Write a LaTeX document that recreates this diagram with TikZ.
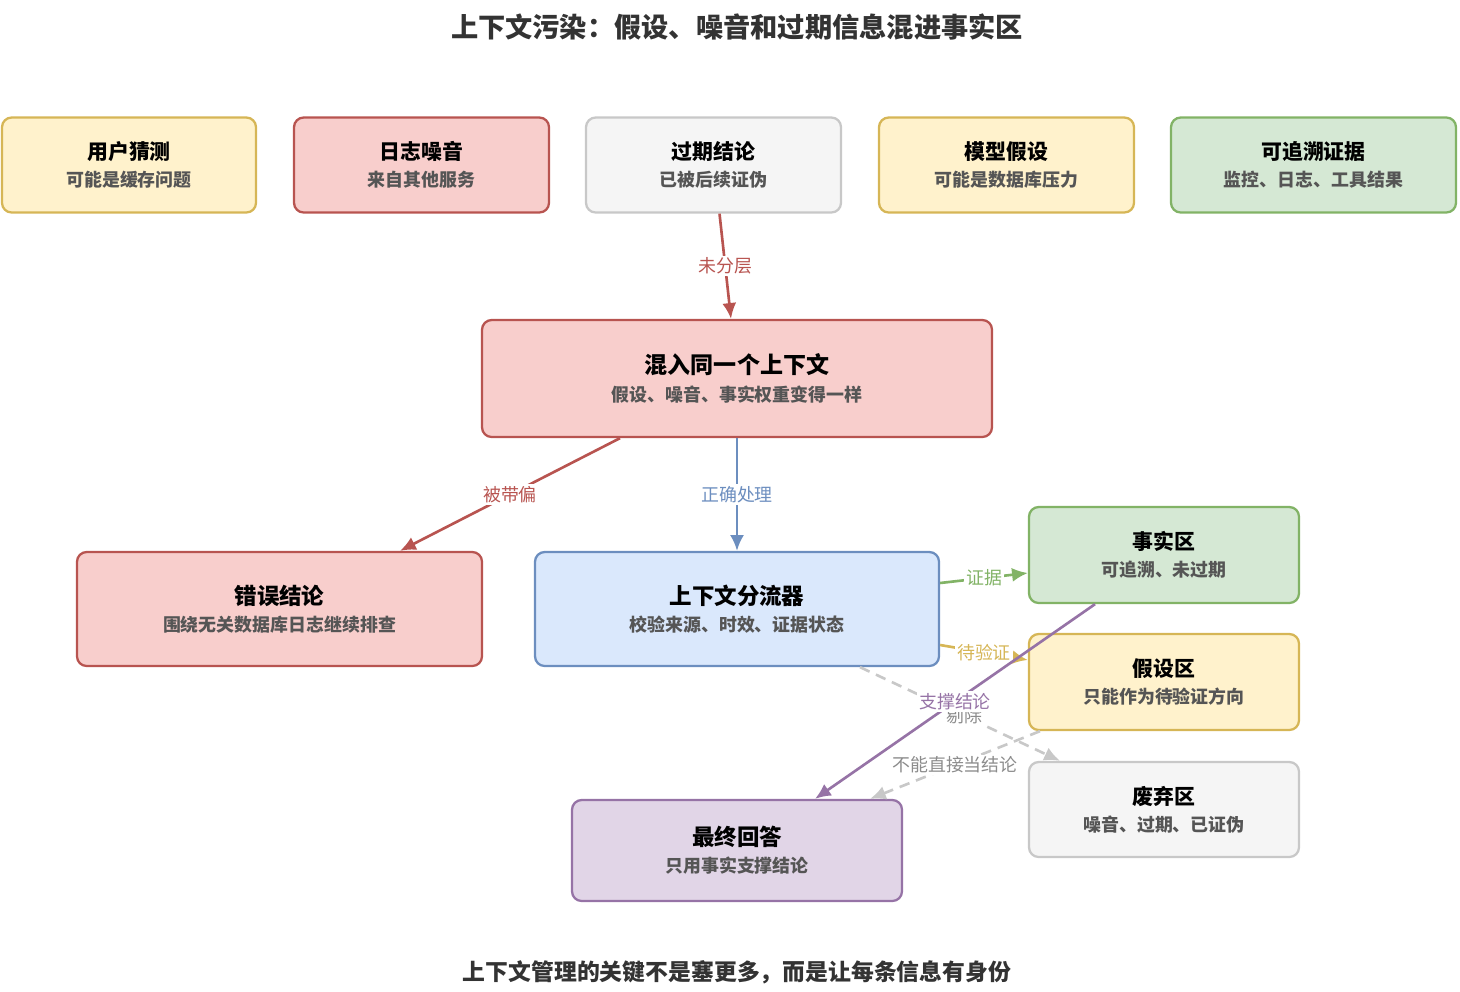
\documentclass[tikz,border=0pt]{standalone}
\usepackage{fontspec}
\setmainfont{Noto Sans CJK SC}
\usetikzlibrary{arrows.meta}
\usetikzlibrary{calc}

\definecolor{yelfill}{HTML}{FFF2CC}
\definecolor{yeldraw}{HTML}{D6B656}
\definecolor{redfill}{HTML}{F8CECC}
\definecolor{reddraw}{HTML}{B85450}
\definecolor{grayfill}{HTML}{F5F5F5}
\definecolor{graydraw}{HTML}{C8C8C8}
\definecolor{grnfill}{HTML}{D5E8D4}
\definecolor{grndraw}{HTML}{82B366}
\definecolor{blufill}{HTML}{DAE8FC}
\definecolor{bludraw}{HTML}{6C8EBF}
\definecolor{purfill}{HTML}{E1D5E7}
\definecolor{purdraw}{HTML}{9673A6}
\definecolor{subgray}{HTML}{555555}
\definecolor{titlegray}{HTML}{333333}
\definecolor{lablgray}{HTML}{8C8C8C}

% box text: title and grey second line
\newcommand{\boxtxt}[3][11.9pt]{{\fontsize{#1}{15.5pt}\selectfont\bfseries #2}\\{\fontsize{10.2pt}{15.5pt}\selectfont\bfseries\color{subgray}#3}}

\begin{document}
\begin{tikzpicture}[x=0.02cm,y=-0.02cm,
  box/.style={draw, rounded corners=5.5pt, line width=1.3pt, align=center, inner sep=2pt,
    font=\fontsize{10.2pt}{15.5pt}\selectfont},
  sz/.style 2 args={minimum width=#1*0.02cm, minimum height=#2*0.02cm},
  yel/.style={box, fill=yelfill, draw=yeldraw},
  red/.style={box, fill=redfill, draw=reddraw},
  gry/.style={box, fill=grayfill, draw=graydraw},
  grn/.style={box, fill=grnfill, draw=grndraw},
  blu/.style={box, fill=blufill, draw=bludraw},
  pur/.style={box, fill=purfill, draw=purdraw},
  link/.style={line width=1.5pt, -{Latex[length=9pt,width=8pt]}},
  lab/.style={fill=white, inner sep=1pt, font=\fontsize{10.2pt}{12pt}\selectfont},
]
\useasboundingbox (0,0) rectangle (1460,991);

\node (title) at (737,27) {\fontsize{15.5pt}{18pt}\selectfont\bfseries\color{titlegray}上下文污染：假设、噪音和过期信息混进事实区};

% sources
\node[yel, sz={254}{95}] (guess) at (129,165) {\boxtxt{用户猜测}{可能是缓存问题}};
\node[red, sz={255}{95}] (noise) at (421.5,165) {\boxtxt{日志噪音}{来自其他服务}};
\node[gry, sz={255}{95}] (stale) at (713.5,165) {\boxtxt{过期结论}{已被后续证伪}};
\node[yel, sz={255}{95}] (model) at (1006.5,165) {\boxtxt{模型假设}{可能是数据库压力}};
\node[grn, sz={285}{95}] (trace) at (1313.5,165) {\boxtxt{可追溯证据}{监控、日志、工具结果}};

\node[red, sz={510}{117}] (mix) at (737,378.5) {\boxtxt[13.1pt]{混入同一个上下文}{假设、噪音、事实权重变得一样}};
\node[red, sz={405}{114}] (wrong) at (279.5,609) {\boxtxt[12.8pt]{错误结论}{围绕无关数据库日志继续排查}};
\node[blu, sz={404}{114}] (split) at (737,609) {\boxtxt[12.8pt]{上下文分流器}{校验来源、时效、证据状态}};

\node[grn, sz={270}{96}] (fact) at (1164,555) {\boxtxt{事实区}{可追溯、未过期}};
\node[yel, sz={270}{96}] (hypo) at (1164,682) {\boxtxt{假设区}{只能作为待验证方向}};
\node[gry, sz={270}{95}] (drop) at (1164,809.5) {\boxtxt{废弃区}{噪音、过期、已证伪}};
\node[pur, sz={330}{101}] (final) at (737,850.5) {\boxtxt[12.8pt]{最终回答}{只用事实支撑结论}};

\node (note) at (737,972) {\fontsize{13pt}{16pt}\selectfont\bfseries\color{titlegray}上下文管理的关键不是塞更多，而是让每条信息有身份};

% connectors
\draw[link, reddraw] ($(stale.south)+(6,0)$) -- ($(mix.north)+(-6,0)$)
  node[lab, midway, text=reddraw] {未分层};
\draw[link, reddraw] ($(mix.south)+(-117,0)$) -- ($(wrong.north)+(120.5,0)$)
  node[lab, midway, text=reddraw] {被带偏};
\draw[link, bludraw] (mix.south) -- (split.north)
  node[lab, midway, text=bludraw] {正确处理};
\draw[link, grndraw] ($(split.east)+(0,-26)$) -- ($(fact.west)+(0,18)$)
  node[lab, midway, text=grndraw] {证据};
\draw[link, yeldraw] ($(split.east)+(0,36)$) -- ($(hypo.west)+(0,-22)$)
  node[lab, midway, text=yeldraw] {待验证};
\draw[link, graydraw, dashed, dash pattern=on 6pt off 4pt] ($(split.south)+(123,0)$) -- ($(drop.north)+(-104,0)$)
  node[lab, pos=0.52, text=lablgray] {剔除};
\draw[link, graydraw, dashed, dash pattern=on 6pt off 4pt] ($(hypo.south)+(-124,0)$) -- ($(final.north)+(133,0)$)
  node[lab, midway, text=lablgray] {不能直接当结论};
\draw[link, purdraw] ($(fact.south)+(-69,0)$) -- ($(final.north)+(78,0)$)
  node[lab, midway, text=purdraw] {支撑结论};
\end{tikzpicture}
\end{document}
